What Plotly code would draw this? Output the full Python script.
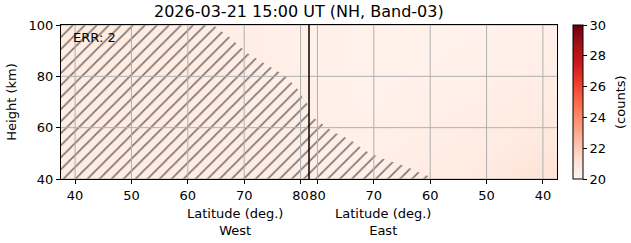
import plotly.graph_objects as go
import plotly.express as px

# ---- data ----
lat_min = 37.5          # latitude at both outer edges
lat_max = 81.5          # latitude at the West/East join
heights = [40, 55, 70, 85, 100]
# heatmap samples (counts) at latitude nodes, West side then East side
west_lats = [37.5, 50, 62, 72, 81.5]
east_lats = [81.5, 72, 62, 50, 37.5]
west_counts = [
    [20.5, 20.5, 20.5, 20.5, 20.4],
    [20.5, 20.5, 20.5, 20.5, 20.4],
    [20.5, 20.5, 20.5, 20.4, 20.4],
    [20.5, 20.5, 20.5, 20.4, 20.3],
    [20.5, 20.5, 20.4, 20.4, 20.3],
]
east_counts = [
    [20.3, 20.3, 20.5, 20.7, 21.2],
    [20.3, 20.3, 20.4, 20.5, 20.8],
    [20.2, 20.2, 20.3, 20.4, 20.6],
    [20.2, 20.2, 20.2, 20.3, 20.4],
    [20.2, 20.2, 20.2, 20.2, 20.3],
]
# hatched (error) region boundary
west_hatch_lat = [64.5, 67.5, 70.6, 74.0, 77.4, 79.5, 80.6, 81.5]
west_hatch_h = [100, 95, 89, 84.5, 80, 75, 71, 68.5]
east_hatch_lat = [81.5, 79.5, 77.2, 74.1, 71.8, 68.8, 64.0, 62.2, 59.5, 59.0]
east_hatch_h = [65, 62, 58.3, 55.2, 51.3, 48.2, 44.7, 42.7, 40.6, 40]
tick_lats = [40, 50, 60, 70, 80]
height_ticks = [40, 60, 80, 100]
cb_ticks = [20, 22, 24, 26, 28, 30]
err_count = 2

span = lat_max - lat_min
def uw(lat):
    return lat - lat_min
def ue(lat):
    return span + (lat_max - lat)

font = "DejaVu Sans"
fig = go.Figure()

# heatmap: combine west + east
xs = [uw(v) for v in west_lats] + [ue(v) for v in east_lats[1:]]
z = [w + e[1:] for w, e in zip(west_counts, east_counts)]
fig.add_trace(go.Heatmap(
    x=xs, y=heights, z=z, zsmooth="best",
    colorscale=px.colors.sequential.Reds, zmin=20, zmax=30,
    colorbar=dict(
        x=1.032, xanchor="left", y=0.5, yanchor="middle", len=1, lenmode="fraction",
        xpad=0, ypad=0,
        thickness=10, outlinewidth=1, outlinecolor="black",
        ticks="outside", ticklen=4, tickcolor="black", tickvals=cb_ticks,
        tickfont=dict(family=font, size=13, color="black"),
    ),
    showscale=True,
))

tickvals = [uw(v) for v in tick_lats] + [ue(v) for v in tick_lats]
ticktext = [str(v) for v in tick_lats] * 2

# grid lines drawn above the heatmap
for tv in tickvals:
    fig.add_shape(type="line", x0=tv, x1=tv, y0=40, y1=100, xref="x", yref="y",
                  line=dict(color="#b0b0b0", width=1), layer="above")
for hv in height_ticks:
    fig.add_shape(type="line", x0=0, x1=2 * span, y0=hv, y1=hv, xref="x", yref="y",
                  line=dict(color="#b0b0b0", width=1), layer="above")

# hatch polygon
hx = [uw(lat_min), uw(lat_min)] + [uw(v) for v in west_hatch_lat] + [ue(v) for v in east_hatch_lat] + [uw(lat_min)]
hy = [40, 100] + west_hatch_h + east_hatch_h + [40]
fig.add_trace(go.Scatter(
    x=hx, y=hy, mode="lines", fill="toself", line=dict(width=0),
    fillcolor="rgba(0,0,0,0)",
    fillpattern=dict(shape="/", size=8.5, solidity=0.2, fgcolor="black", bgcolor="rgba(0,0,0,0)"),
    hoverinfo="skip", showlegend=False,
))

# separator line
fig.add_shape(type="line", x0=span, x1=span, y0=40, y1=100, xref="x", yref="y",
              line=dict(color="black", width=1.5), layer="above")

fig.update_xaxes(
    range=[0, 2 * span], tickvals=tickvals, ticktext=ticktext,
    showgrid=False,
    showline=True, mirror=True, linecolor="black", linewidth=1,
    ticks="outside", ticklen=4, tickcolor="black",
    tickfont=dict(family=font, size=13, color="black"), zeroline=False,
)
fig.update_yaxes(
    range=[40, 100], tickvals=height_ticks,
    showgrid=False,
    showline=True, mirror=True, linecolor="black", linewidth=1,
    ticks="outside", ticklen=4, tickcolor="black",
    tickfont=dict(family=font, size=13, color="black"), zeroline=False,
    title=dict(text="Height (km)", font=dict(family=font, size=13, color="black"), standoff=9),
)

ann = dict(showarrow=False, font=dict(family=font, size=13, color="black"))
fig.add_annotation(x=0.25, y=-0.165, xref="paper", yref="paper", yanchor="top",
                   text="Latitude (deg.)<br>West", **ann)
fig.add_annotation(x=0.75, y=-0.165, xref="paper", yref="paper", yanchor="top",
                   text="Latitude (deg.)<br>East", **ann)
fig.add_annotation(x=0.02, y=0.92, xref="paper", yref="paper", xanchor="left", yanchor="middle",
                   text=f"ERR: {err_count}", **ann)
fig.add_annotation(x=(620 - 61) / 496, y=0.5, xref="paper", yref="paper",
                   xanchor="center", yanchor="middle", textangle=-90,
                   text="(counts)", **ann)
fig.add_annotation(x=0.48, y=1.0, xref="paper", yref="paper", yanchor="bottom", yshift=2,
                   text="2026-03-21 15:00 UT (NH, Band-03)",
                   showarrow=False, font=dict(family=font, size=16, color="black"))

fig.update_layout(
    width=631, height=243, margin=dict(l=61, r=74, t=25, b=64, autoexpand=False),
    plot_bgcolor="white", paper_bgcolor="white", showlegend=False,
    font=dict(family=font, size=13, color="black"),
)
fig.write_html("out.html")
